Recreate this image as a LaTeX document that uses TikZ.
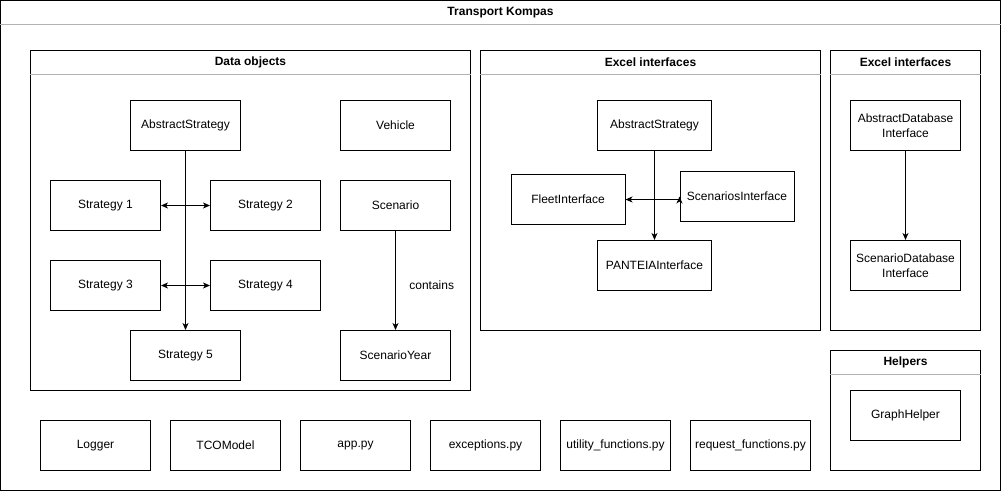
\documentclass[tikz,border=0pt]{standalone}
\usepackage{fontspec}
\setmainfont{Liberation Sans}
\usetikzlibrary{arrows.meta}
\begin{document}
\begin{tikzpicture}[x=1pt,y=-1pt,line width=1pt,font=\fontsize{12}{15}\selectfont,>={Stealth[length=7pt,width=6pt,inset=2pt]}]
\tikzstyle{box}=[draw,shape=rectangle,inner sep=0pt,minimum width=110pt,minimum height=50pt,align=center]
\tikzstyle{group}=[draw,shape=rectangle,inner sep=0pt]
\tikzstyle{header}=[draw=gray!60]
\tikzstyle{title}=[font=\fontsize{12}{15}\selectfont\bfseries]
\useasboundingbox (0,0) rectangle (1001,491);
\node[group,minimum width=1000pt,minimum height=490pt] at (500.5,245.5) (kompas) {};
\node[group,minimum width=440pt,minimum height=340pt] at (250.5,220.5) (dataobj) {};
\node[group,minimum width=340pt,minimum height=280pt] at (650.5,190.5) (excelA) {};
\node[group,minimum width=150pt,minimum height=280pt] at (905.5,190.5) (excelB) {};
\node[group,minimum width=150pt,minimum height=120pt] at (905.5,410.5) (helpers) {};
\draw[header] ([yshift=-24.5pt]kompas.north west) -- ([yshift=-24.5pt]kompas.north east);
\draw[header] ([yshift=-24.5pt]dataobj.north west) -- ([yshift=-24.5pt]dataobj.north east);
\draw[header] ([yshift=-24.5pt]excelA.north west) -- ([yshift=-24.5pt]excelA.north east);
\draw[header] ([yshift=-24.5pt]excelB.north west) -- ([yshift=-24.5pt]excelB.north east);
\draw[header] ([yshift=-24.5pt]helpers.north west) -- ([yshift=-24.5pt]helpers.north east);
\node[title] at (500.5,12.5) (kompastitle) {Transport Kompas};
\node[title] at (250.5,62.5) (dataobjtitle) {Data objects};
\node[title] at (650.5,62.5) (excelAtitle) {Excel interfaces};
\node[title] at (905.5,62.5) (excelBtitle) {Excel interfaces};
\node[title] at (905.5,362.5) (helperstitle) {Helpers};
\node[box] at (185.5,125.5) (abstrat) {AbstractStrategy};
\node[box] at (395.5,125.5) (vehicle) {Vehicle};
\node[box] at (105.5,205.5) (strat1) {Strategy 1};
\node[box] at (265.5,205.5) (strat2) {Strategy 2};
\node[box] at (395.5,205.5) (scenario) {Scenario};
\node[box] at (105.5,285.5) (strat3) {Strategy 3};
\node[box] at (265.5,285.5) (strat4) {Strategy 4};
\node[box] at (185.5,355.5) (strat5) {Strategy 5};
\node[box] at (395.5,355.5) (scenyear) {ScenarioYear};
\node[box,minimum width=114pt] at (654.5,125.5) (absiface) {AbstractStrategy};
\node[box,minimum width=114pt] at (568,199.5) (fleet) {FleetInterface};
\node[box,minimum width=114pt] at (737,196.5) (scenarios) {ScenariosInterface};
\node[box,minimum width=114pt] at (654.5,265.5) (panteia) {PANTEIAInterface};
\node[box] at (905.5,125.5) (absdb) {AbstractDatabase\\Interface};
\node[box] at (905.5,265.5) (scendb) {ScenarioDatabase\\Interface};
\node[box] at (905.5,415.5) (graph) {GraphHelper};
\node[box] at (95.5,445.5) (logger) {Logger};
\node[box] at (225.5,445.5) (tco) {TCOModel};
\node[box] at (355.5,445.5) (app) {app.py};
\node[box] at (485.5,445.5) (exceptions) {exceptions.py};
\node[box] at (615.5,445.5) (utility) {utility\_functions.py};
\node[box,minimum width=120pt] at (750.5,445.5) (request) {request\_functions.py};
\draw[->] (abstrat) -- (strat5);
\draw[<->] (strat1) -- (strat2);
\draw[<->] (strat3) -- (strat4);
\draw[->] (scenario) -- (scenyear) node[pos=0.55,right=10pt] {contains};
\draw[->] (absiface) -- (panteia);
\draw[<->] (fleet.east) -| (scenarios.west);
\draw[->] (absdb) -- (scendb);
\end{tikzpicture}
\end{document}
